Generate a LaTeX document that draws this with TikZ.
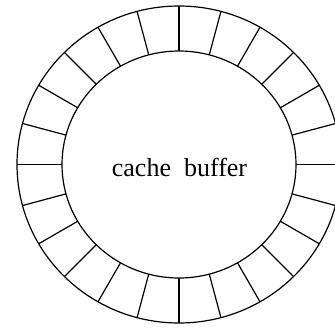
\documentclass[tikz,border=0pt]{standalone}
\usepackage{fontspec}
\setmainfont{Liberation Serif}
\usetikzlibrary{calc}
\begin{document}
\begin{tikzpicture}[x=1pt,y=-1pt,ring/.style={line width=1.2pt,black}]
\useasboundingbox (0,0) rectangle (335,327);
\clip (0,0) rectangle (335,327);
\coordinate (c) at (179,164.5);
\draw[ring] (c) ellipse [x radius=162, y radius=158.5];
\draw[ring] (c) ellipse [x radius=117, y radius=113.5];
\foreach \a in {0,15,...,345}{
  \draw[ring] ($(c)+({117*cos(\a)},{113.5*sin(\a)})$) -- ($(c)+({162*cos(\a)},{158.5*sin(\a)})$);
}
\node[font=\fontsize{26}{30}\selectfont,inner sep=0pt,anchor=base] (label) at (179.5,176.5) {cache\hspace{0.25em} buffer};
\end{tikzpicture}
\end{document}
